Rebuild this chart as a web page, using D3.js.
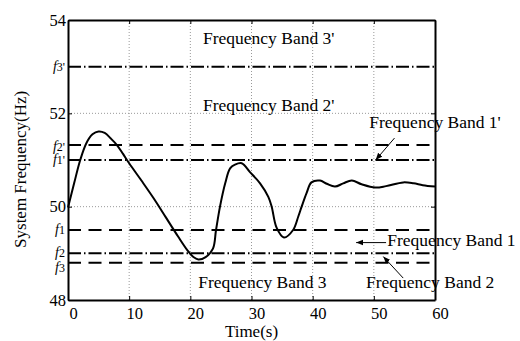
<!DOCTYPE html>
<html>
<head>
<meta charset="utf-8">
<script src="https://cdn.jsdelivr.net/npm/d3@7"></script>
<style>
  body { margin: 0; background: #fff; }
  text { font-family: "Liberation Serif", serif; fill: #000; }
</style>
</head>
<body>
<svg id="chart"></svg>
<script>
// frequency response
var times = [0, 1, 2, 3, 4, 5, 6, 7, 8, 9, 10, 12, 14, 16, 18, 19.5, 20.5, 21.3, 22.5, 23.7, 24.2, 24.85, 25.7, 26.5, 27.3, 28.4, 29.75, 31.4, 32.75, 33.3, 34.1, 35.3, 36.8, 37.65, 38.2, 39.0, 39.8, 41.2, 42.3, 43.65, 45, 46.4, 48, 50.2, 52, 54.8, 56.5, 58, 60]
var freqs = [49.98, 50.5, 51.0, 51.36, 51.55, 51.61, 51.58, 51.46, 51.32, 51.13, 50.93, 50.56, 50.18, 49.77, 49.36, 49.07, 48.92, 48.87, 48.92, 49.1, 49.5, 50.0, 50.5, 50.82, 50.9, 50.93, 50.74, 50.5, 50.21, 50.0, 49.55, 49.34, 49.5, 49.79, 50.0, 50.29, 50.52, 50.56, 50.49, 50.43, 50.5, 50.56, 50.48, 50.41, 50.44, 50.52, 50.5, 50.46, 50.43]

// threshold lines
var bandNames = ["3'", "2'", "1'", "1", "2", "3"]
var bandValues = [53.0, 51.32, 51.0, 49.5, 49.0, 48.8]
var bandStyles = ["dashdot", "dash", "dashdot", "dash", "dashdot", "dash"]
var bandLabelShift = [0, 1, 0, 0, -1, 5]

var xTicks = [0, 10, 20, 30, 40, 50, 60]
var yTicks = [48, 50, 52, 54]

// annotations (in data units)
var noteTexts = ["Frequency Band 3'", "Frequency Band 2'", "Frequency Band 1'", "Frequency Band 1", "Frequency Band 2", "Frequency Band 3"]
var noteT = [22.07, 22.07, 49.26, 52.2, 48.72, 21.3]
var noteF = [53.49, 52.05, 51.68, 49.16, 48.25, 48.26]
var arrowFrom = [[53.38, 51.47], [52.0, 49.23], [54.8, 48.47]]
var arrowTo = [[50.3, 51.0], [47.1, 49.23], [51.55, 48.93]]

var width = 520
var height = 341
var margin = {top: 20, right: 85, bottom: 41, left: 68}
var serif = "'Liberation Serif', serif"

var svg = d3.select("#chart").attr("width", width).attr("height", height)

var x = d3.scaleLinear().domain([0, 60]).range([margin.left, width - margin.right])
var y = d3.scaleLinear().domain([48, 54]).range([height - margin.bottom, margin.top])

// dotted grid
svg.append("g").selectAll("line").data(xTicks.slice(1, -1)).enter().append("line")
  .attr("x1", d => x(d)).attr("x2", d => x(d))
  .attr("y1", y(48)).attr("y2", y(54))
  .attr("stroke", "#999").attr("stroke-width", 1).attr("stroke-dasharray", "1,2")
svg.append("g").selectAll("line").data(yTicks.slice(1, -1)).enter().append("line")
  .attr("y1", d => y(d)).attr("y2", d => y(d))
  .attr("x1", x(0)).attr("x2", x(60))
  .attr("stroke", "#999").attr("stroke-width", 1).attr("stroke-dasharray", "1,2")

// band lines
var dashes = {dash: "13,7.5", dashdot: "13,3,1.5,3"}
svg.append("g").selectAll("line").data(bandValues).enter().append("line")
  .attr("x1", x(0)).attr("x2", x(60))
  .attr("y1", d => y(d)).attr("y2", d => y(d))
  .attr("stroke", "#000").attr("stroke-width", 2)
  .attr("stroke-dasharray", (d, i) => dashes[bandStyles[i]])

// response curve
var line = d3.line().x(d => x(d[0])).y(d => y(d[1])).curve(d3.curveCatmullRom)
svg.append("path")
  .datum(times.map((t, i) => [t, freqs[i]]))
  .attr("d", line)
  .attr("fill", "none").attr("stroke", "#000").attr("stroke-width", 2)

// axes box with inward ticks
var axB = svg.append("g").attr("transform", `translate(0,${y(48)})`)
  .call(d3.axisBottom(x).tickValues(xTicks).tickFormat(d3.format("d")).tickSizeInner(-4).tickSizeOuter(0).tickPadding(10))
var axT = svg.append("g").attr("transform", `translate(0,${y(54)})`)
  .call(d3.axisTop(x).tickValues(xTicks).tickSizeInner(-4).tickSizeOuter(0).tickFormat(""))
var axL = svg.append("g").attr("transform", `translate(${x(0)},0)`)
  .call(d3.axisLeft(y).tickValues(yTicks).tickFormat(d3.format("d")).tickSizeInner(-4).tickSizeOuter(0).tickPadding(3))
var axR = svg.append("g").attr("transform", `translate(${x(60)},0)`)
  .call(d3.axisRight(y).tickValues(yTicks).tickSizeInner(-4).tickSizeOuter(0).tickFormat(""))
;[axB, axT, axL, axR].forEach(a => {
  a.attr("font-family", serif).attr("font-size", 16.5)
  a.select(".domain").attr("stroke", "#000").attr("stroke-width", 2)
  a.selectAll(".tick line").attr("stroke", "#000").attr("stroke-width", 1)
})
axB.selectAll(".tick text").attr("dx", 5).attr("dy", "0.55em")
axL.selectAll(".tick text").attr("x", -2)

// band labels on the y axis
var fl = svg.append("g").selectAll("text").data(bandValues).enter().append("text")
  .attr("x", x(0) - 3).attr("y", (d, i) => y(d) + bandLabelShift[i]).attr("dy", "0.32em")
  .attr("text-anchor", "end").attr("font-size", 14)
fl.append("tspan").attr("font-style", "italic").text("f")
fl.append("tspan").attr("font-size", 12).text((d, i) => bandNames[i])

// axis titles
svg.append("text").attr("x", x(30)).attr("y", 337).attr("text-anchor", "middle")
  .attr("font-size", 17).text("Time(s)")
svg.append("text").attr("transform", `translate(26,${y(50.8)}) rotate(-90)`)
  .attr("text-anchor", "middle").attr("font-size", 17).text("System Frequency(Hz)")

// annotations
svg.append("g").selectAll("text").data(noteTexts).enter().append("text")
  .attr("x", (d, i) => x(noteT[i])).attr("y", (d, i) => y(noteF[i]))
  .attr("font-size", 17.5).text(d => d)

svg.append("defs").append("marker").attr("id", "head")
  .attr("viewBox", "0 0 10 10").attr("refX", 10).attr("refY", 5)
  .attr("markerWidth", 7).attr("markerHeight", 7).attr("markerUnits", "userSpaceOnUse")
  .attr("orient", "auto")
  .append("path").attr("d", "M0,1 L10,5 L0,9 Z").attr("fill", "#000")

svg.append("g").selectAll("line").data(arrowFrom).enter().append("line")
  .attr("x1", d => x(d[0])).attr("y1", d => y(d[1]))
  .attr("x2", (d, i) => x(arrowTo[i][0])).attr("y2", (d, i) => y(arrowTo[i][1]))
  .attr("stroke", "#000").attr("stroke-width", 1)
  .attr("marker-end", "url(#head)")
</script>
</body>
</html>
